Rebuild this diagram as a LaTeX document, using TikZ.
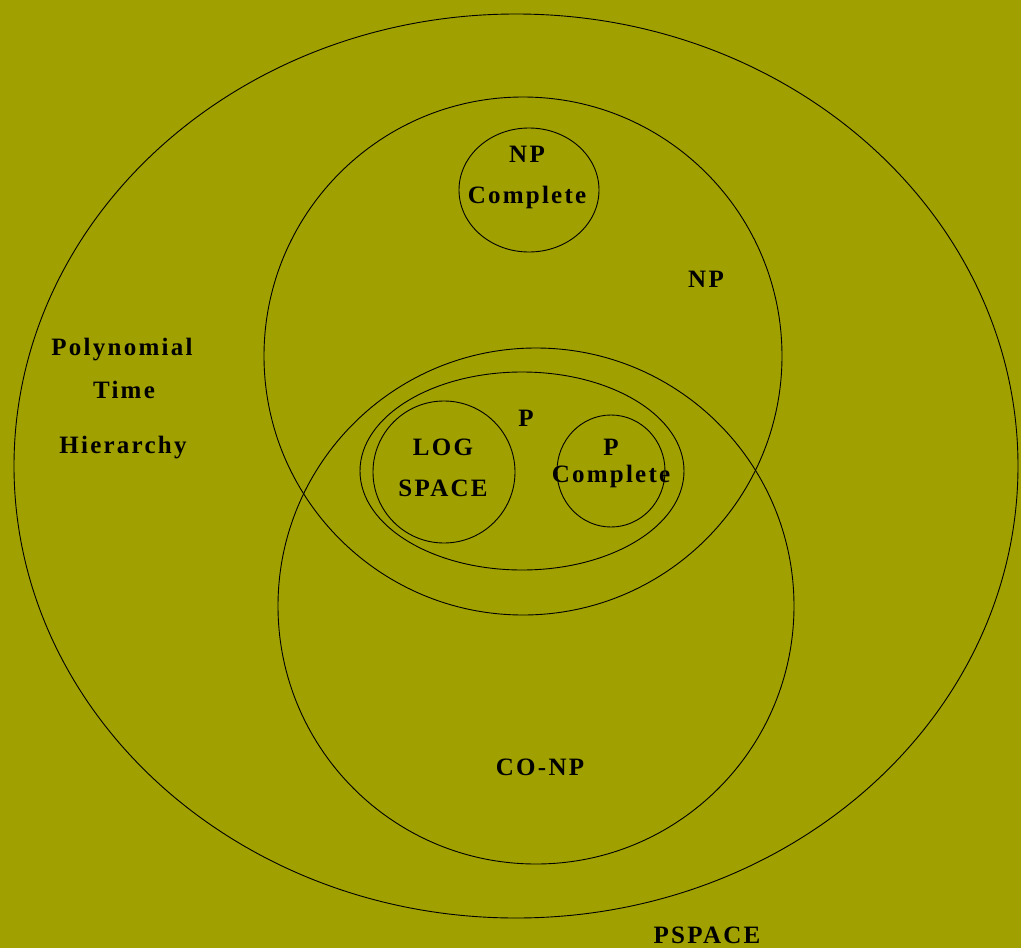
\documentclass[tikz,border=0pt]{standalone}
\usepackage{fontspec}
\newfontfamily\classfont[LetterSpace=9]{Liberation Serif}
\usetikzlibrary{positioning}
\definecolor{OliveBg}{RGB}{160,160,0}

\begin{document}
\begin{tikzpicture}[x=1pt, y=-1pt, line width=0.9pt,
        classset/.style={draw=black},
        classlabel/.style={font=\classfont\bfseries\fontsize{25}{28}\selectfont, inner sep=0pt, anchor=base}]
        % Background
        \fill[OliveBg] (0,0) rectangle (1021,948);
        \useasboundingbox (0,0) rectangle (1021,948);
        % Classes
        \draw[classset] (516,466) ellipse [x radius=502, y radius=452];
        \draw[classset] (523,356) circle [radius=259];
        \draw[classset] (536,606) circle [radius=258];
        \draw[classset] (529,190) ellipse [x radius=70, y radius=62];
        \draw[classset] (522,471) ellipse [x radius=162, y radius=99];
        \draw[classset] (444,472) ellipse [x radius=71, y radius=71];
        \draw[classset] (611,471) ellipse [x radius=54, y radius=56];
        % Labels
        \node[classlabel] (npc1) at (527,162) {NP};
        \node[classlabel] (npc2) at (527,203) {Complete};
        \node[classlabel] (np) at (706,287) {NP};
        \node[classlabel] (ph1) at (122,355) {Polynomial};
        \node[classlabel] (ph2) at (124,398) {Time};
        \node[classlabel] (ph3) at (123,453) {Hierarchy};
        \node[classlabel] (p) at (526,426) {P};
        \node[classlabel] (log1) at (443,455) {LOG};
        \node[classlabel] (log2) at (443,496) {SPACE};
        \node[classlabel] (pc1) at (611,455) {P};
        \node[classlabel] (pc2) at (611,482) {Complete};
        \node[classlabel] (conp) at (540,775) {CO-NP};
        \node[classlabel] (pspace) at (707,943) {PSPACE};
\end{tikzpicture}
\end{document}
